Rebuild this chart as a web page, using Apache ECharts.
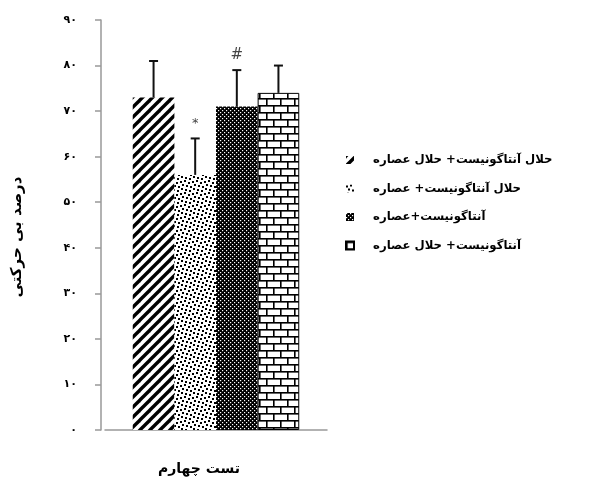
<!DOCTYPE html>
<html dir="ltr">
<head>
<meta charset="utf-8">
<script src="https://cdn.jsdelivr.net/npm/echarts@6/dist/echarts.min.js"></script>
<style>
  html, body { margin: 0; padding: 0; background: #fff; }
  #chart { width: 601px; height: 482px; }
</style>
</head>
<body>
<div id="chart"></div>
<script>
// Immobility percentage in the fourth test, four treatment groups.
var categories = ['تست چهارم'];
var groupNames = [
  'حلال آنتاگونیست+ حلال عصاره',
  'حلال آنتاگونیست+ عصاره',
  'آنتاگونیست+عصاره',
  'آنتاگونیست+ حلال عصاره'
];
var axisTitle = 'درصد بی حرکتی';
var meanValues = [73, 56, 71, 74];
var errorValues = [8, 8, 8, 6];
var significanceMarks = ['', '*', '#', ''];
var yTicks = [0, 10, 20, 30, 40, 50, 60, 70, 80, 90];

var persianDigits = ['۰','۱','۲','۳','۴','۵','۶','۷','۸','۹'];
function toPersian(n) {
  return String(n).replace(/[0-9]/g, function (d) { return persianDigits[+d]; });
}

function tile(w, h, draw) {
  var c = document.createElement('canvas');
  c.width = w; c.height = h;
  var ctx = c.getContext('2d');
  draw(ctx, w, h);
  return { image: c, repeat: 'repeat' };
}

// Hatch fills for the four groups
var diagonalFill = tile(10, 10, function (ctx, w, h) {
  ctx.fillStyle = '#fff'; ctx.fillRect(0, 0, w, h);
  ctx.strokeStyle = '#000'; ctx.lineWidth = 3.4;
  [[-5, 5, 5, -5], [0, 10, 10, 0], [5, 15, 15, 5]].forEach(function (l) {
    ctx.beginPath(); ctx.moveTo(l[0], l[1]); ctx.lineTo(l[2], l[3]); ctx.stroke();
  });
});
var speckleFill = tile(12, 12, function (ctx, w, h) {
  ctx.fillStyle = '#fff'; ctx.fillRect(0, 0, w, h);
  ctx.fillStyle = '#000';
  [[0, 1], [4, 0], [8, 2], [2, 4], [6, 5], [10, 6], [1, 8], [5, 9], [9, 10]].forEach(function (p) {
    ctx.fillRect(p[0], p[1], 2, 2);
  });
});
var denseFill = tile(4, 4, function (ctx, w, h) {
  ctx.fillStyle = '#000'; ctx.fillRect(0, 0, w, h);
  ctx.fillStyle = '#fff';
  ctx.fillRect(0, 0, 1.2, 1.2);
  ctx.fillRect(2, 2, 1.2, 1.2);
});
var brickFill = tile(14, 14, function (ctx, w, h) {
  ctx.fillStyle = '#fff'; ctx.fillRect(0, 0, w, h);
  ctx.fillStyle = '#000';
  ctx.fillRect(0, 0, w, 1.6);
  ctx.fillRect(0, 7, w, 1.6);
  ctx.fillRect(0, 0, 1.6, 7);
  ctx.fillRect(7, 7, 1.6, 7);
});
var fills = [diagonalFill, speckleFill, denseFill, brickFill];

var gapRatio = 0.25;
var barSeries = groupNames.map(function (name, i) {
  return {
    name: name,
    type: 'bar',
    barGap: '0%',
    barCategoryGap: (gapRatio * 100) + '%',
    itemStyle: {
      color: fills[i],
      borderColor: i === 3 ? '#000' : 'transparent',
      borderWidth: i === 3 ? 1 : 0
    },
    data: [meanValues[i]],
    z: 2
  };
});

// Upper error whiskers and significance marks, placed over each bar
var errorSeries = groupNames.map(function (name, i) {
  return {
    name: 'err' + i,
    type: 'custom',
    z: 3,
    data: [[0, meanValues[i], errorValues[i]]],
    renderItem: function (params, api) {
      var v = api.value(1), e = api.value(2);
      var base = api.coord([api.value(0), v]);
      var top = api.coord([api.value(0), v + e]);
      var band = api.size([1, 0])[0];
      var groupW = band * (1 - gapRatio);
      var bw = groupW / groupNames.length;
      var x = base[0] - groupW / 2 + bw * (i + 0.5);
      var children = [
        { type: 'line', shape: { x1: x, y1: base[1], x2: x, y2: top[1] }, style: { stroke: '#111', lineWidth: 2 } },
        { type: 'line', shape: { x1: x - 4.5, y1: top[1], x2: x + 4.5, y2: top[1] }, style: { stroke: '#111', lineWidth: 2 } }
      ];
      if (significanceMarks[i]) {
        children.push({
          type: 'text',
          style: {
            text: significanceMarks[i],
            x: x, y: top[1] - 8,
            textAlign: 'center', textVerticalAlign: 'bottom',
            fill: '#444',
            font: significanceMarks[i] === '#' ? '15px "DejaVu Sans"' : '13px "DejaVu Sans"'
          }
        });
      }
      return { type: 'group', children: children };
    }
  };
});

var chart = echarts.init(document.getElementById('chart'), null, { renderer: 'canvas' });
chart.setOption({
  animation: false,
  backgroundColor: '#fff',
  textStyle: { fontFamily: '"DejaVu Sans", sans-serif' },
  grid: { left: 105, right: 274, top: 20, bottom: 52, containLabel: false },
  legend: {
    data: groupNames,
    orient: 'vertical',
    left: 340,
    top: 149,
    itemWidth: 8,
    itemHeight: 8,
    itemGap: 16.5,
    selectedMode: false,
    icon: 'rect',
    textStyle: { fontSize: 11.7, fontWeight: 'bold', color: '#000', padding: [0, 0, 0, 14] }
  },
  xAxis: {
    type: 'category',
    data: categories,
    axisLine: { lineStyle: { color: '#999', width: 1.5 } },
    axisTick: { show: false },
    axisLabel: { margin: 32, fontSize: 14, fontWeight: 'bold', color: '#000', padding: [0, 34, 0, 0] }
  },
  yAxis: {
    type: 'value',
    offset: 4,
    min: yTicks[0],
    max: yTicks[yTicks.length - 1],
    interval: yTicks[1] - yTicks[0],
    name: axisTitle,
    nameLocation: 'middle',
    nameRotate: 90,
    nameGap: 76,
    nameTextStyle: { fontSize: 15, fontWeight: 'bold', color: '#000', padding: [0, 24, 0, 0] },
    axisLine: { show: true, lineStyle: { color: '#999', width: 1.5 } },
    axisTick: { show: true, length: 6, lineStyle: { color: '#999', width: 1.5 } },
    splitLine: { show: false },
    axisLabel: {
      margin: 24,
      fontSize: 11,
      fontWeight: 'bold',
      color: '#000',
      formatter: function (v) { return toPersian(v); }
    }
  },
  series: barSeries.concat(errorSeries)
});
</script>
</body>
</html>
